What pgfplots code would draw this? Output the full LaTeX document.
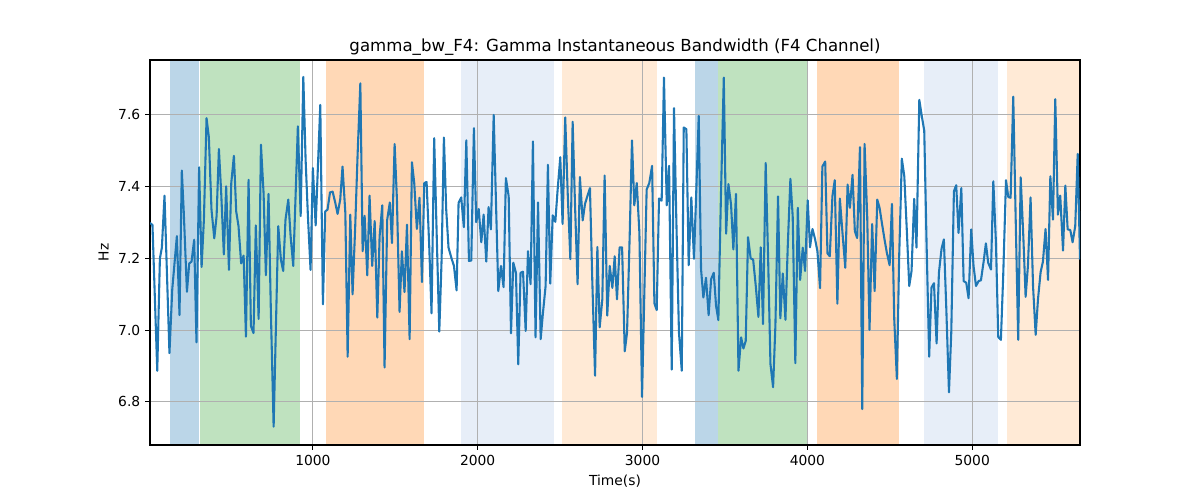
\documentclass[border=0pt]{standalone}
\usepackage{pgfplots}
\usepackage{pgfplotstable}
\pgfplotsset{compat=1.18}
\usepackage{fontspec}
\setmainfont{DejaVu Sans}
\definecolor{tabblue}{HTML}{1F77B4}
\definecolor{tabgreen}{HTML}{2CA02C}
\definecolor{taborange}{HTML}{FF7F0E}
\definecolor{tablblue}{HTML}{AEC7E8}
\definecolor{tablorange}{HTML}{FFBB78}
\definecolor{gridgray}{HTML}{B0B0B0}
\pgfplotstableread{
x y
12 7.299
27 7.293
56 6.887
72 7.200
84 7.230
100 7.375
130 6.936
147 7.114
175 7.262
191 7.042
205 7.445
217 7.327
236 7.107
250 7.186
264 7.191
280 7.252
294 6.966
310 7.454
325 7.176
339 7.308
355 7.591
369 7.538
385 7.336
402 7.256
416 7.318
430 7.505
444 7.382
460 7.211
474 7.401
491 7.168
505 7.410
521 7.486
535 7.331
549 7.290
565 7.186
580 7.208
594 6.982
610 7.419
624 7.012
640 6.992
654 7.292
671 7.031
685 7.517
701 7.382
715 7.153
731 7.380
745 7.058
762 6.731
776 7.012
790 7.290
806 7.197
820 7.165
834 7.308
851 7.364
865 7.262
881 7.179
895 7.372
909 7.568
926 7.318
942 7.706
956 7.475
970 7.318
986 7.168
1000 7.452
1017 7.292
1045 7.628
1061 7.072
1075 7.331
1089 7.336
1104 7.384
1120 7.386
1136 7.355
1150 7.324
1166 7.364
1180 7.456
1197 7.327
1211 6.926
1227 7.322
1241 7.100
1257 7.290
1271 7.484
1288 7.688
1302 7.220
1314 7.319
1330 7.153
1344 7.375
1360 7.179
1375 7.304
1391 7.035
1405 7.262
1421 7.348
1435 6.896
1451 7.308
1467 7.356
1480 7.243
1496 7.519
1510 7.364
1526 7.051
1540 7.220
1556 7.106
1571 7.294
1587 6.975
1601 7.468
1615 7.410
1631 7.282
1647 7.369
1662 7.134
1676 7.410
1690 7.413
1706 7.234
1720 7.047
1736 7.535
1751 7.271
1767 6.996
1781 7.197
1795 7.537
1809 7.336
1823 7.230
1842 7.199
1856 7.179
1872 7.111
1884 7.355
1900 7.370
1916 7.287
1931 7.529
1947 7.193
1961 7.194
1977 7.563
1991 7.301
2006 7.338
2022 7.245
2036 7.322
2052 7.191
2066 7.343
2080 7.281
2097 7.600
2111 7.355
2125 7.109
2141 7.179
2157 7.120
2171 7.424
2188 7.373
2202 6.991
2216 7.188
2232 7.160
2246 6.905
2260 7.160
2275 7.163
2291 6.998
2305 7.220
2321 7.128
2335 7.526
2351 6.980
2366 7.356
2382 6.975
2396 7.049
2412 7.123
2426 7.461
2440 7.130
2455 7.320
2471 7.302
2485 7.392
2501 7.482
2515 7.296
2531 7.593
2546 7.382
2562 7.198
2576 7.581
2590 7.355
2606 7.128
2620 7.427
2637 7.306
2651 7.352
2665 7.373
2681 7.396
2695 7.142
2712 6.873
2726 7.232
2740 7.008
2756 7.086
2770 7.431
2786 7.041
2801 7.179
2817 7.118
2831 7.206
2845 7.086
2861 7.231
2876 7.231
2892 6.941
2906 6.993
2922 7.262
2936 7.529
2950 7.348
2965 7.410
2981 7.271
2997 6.814
3011 7.105
3025 7.392
3041 7.410
3058 7.458
3072 7.075
3086 7.056
3100 7.367
3116 7.361
3130 7.704
3147 7.348
3161 7.458
3177 6.890
3191 7.619
3205 7.308
3221 6.993
3238 6.887
3250 7.565
3266 7.560
3280 7.181
3296 7.370
3312 7.199
3327 7.401
3341 7.597
3355 7.170
3369 7.091
3385 7.146
3401 7.042
3416 7.142
3432 7.160
3446 7.068
3460 7.028
3476 7.382
3493 7.704
3507 7.269
3521 7.407
3537 7.350
3551 7.225
3567 7.380
3582 6.887
3598 6.980
3612 6.949
3626 6.970
3640 7.259
3656 7.200
3671 7.197
3687 7.123
3703 7.037
3717 7.231
3731 7.017
3747 7.466
3762 7.197
3776 6.906
3792 6.841
3806 7.012
3822 7.373
3836 7.033
3851 7.158
3867 7.029
3881 7.234
3897 7.422
3911 7.317
3927 6.908
3942 7.341
3956 7.140
3972 7.230
3986 7.165
4002 7.362
4016 7.231
4031 7.282
4047 7.253
4061 7.220
4077 7.117
4091 7.456
4108 7.470
4122 7.214
4136 7.206
4152 7.373
4166 7.418
4182 7.074
4197 7.367
4213 7.271
4230 7.174
4244 7.406
4258 7.341
4274 7.433
4288 7.276
4302 7.257
4319 7.510
4333 6.780
4347 7.519
4363 7.317
4377 7.001
4393 7.296
4408 7.109
4424 7.364
4438 7.341
4452 7.299
4468 7.253
4482 7.216
4499 7.181
4513 7.352
4527 7.031
4543 6.864
4557 7.206
4573 7.478
4588 7.429
4604 7.271
4618 7.123
4632 7.165
4648 7.366
4662 7.230
4679 7.642
4693 7.600
4709 7.556
4723 7.244
4739 6.926
4753 7.119
4768 7.131
4784 6.963
4798 7.160
4814 7.227
4828 7.253
4843 7.058
4859 6.827
4873 6.994
4889 7.387
4903 7.404
4917 7.271
4934 7.396
4948 7.137
4964 7.132
4978 7.089
4994 7.281
5008 7.179
5023 7.123
5039 7.137
5053 7.139
5069 7.190
5083 7.242
5097 7.188
5114 7.169
5128 7.415
5144 7.244
5158 6.981
5174 6.973
5188 7.151
5205 7.418
5219 7.371
5233 7.369
5249 7.651
5263 7.327
5279 6.973
5294 7.426
5310 7.262
5324 7.093
5338 7.179
5354 7.370
5369 7.123
5385 6.987
5399 7.086
5415 7.162
5429 7.191
5445 7.282
5460 7.140
5474 7.429
5490 7.308
5504 7.644
5520 7.322
5534 7.375
5551 7.222
5565 7.403
5579 7.281
5595 7.279
5609 7.245
5625 7.290
5640 7.491
5654 7.197
}\datatable
\begin{document}
\begin{tikzpicture}
\begin{axis}[
  set layers=standard,
  at={(108bp,39.6bp)}, anchor=south west,
  scale only axis, width=669.6bp, height=277.2bp,
  xmin=12, xmax=5654, ymin=6.68, ymax=7.753,
  xtick={1000,2000,3000,4000,5000},
  ytick={6.8,7.0,7.2,7.4,7.6},
  scaled x ticks=false, scaled y ticks=false,
  xtick pos=left, ytick pos=left,
  grid=major, grid style={gridgray, line width=0.8bp},
  tick align=outside, major tick length=3.5bp,
  tick style={black, line width=0.8bp},
  axis line style={line width=0.8bp},
  ticklabel style={font=\fontsize{10}{12}\selectfont},
  /pgf/number format/assume math mode=true,
  /pgf/number format/1000 sep={},
  yticklabel style={/pgf/number format/fixed, /pgf/number format/fixed zerofill, /pgf/number format/precision=1},
  title={gamma\_bw\_F4: Gamma Instantaneous Bandwidth (F4 Channel)},
  title style={font=\fontsize{12}{14}\selectfont, yshift=-6.5bp},
  xlabel={Time(s)}, ylabel={Hz},
  label style={font=\fontsize{10}{12}\selectfont},
]
\addplot[fill=tabblue, fill opacity=0.3, draw=none, on layer=axis background] coordinates {(132,6.68) (308,6.68) (308,7.753) (132,7.753)};
\addplot[fill=tabgreen, fill opacity=0.3, draw=none, on layer=axis background] coordinates {(314,6.68) (920,6.68) (920,7.753) (314,7.753)};
\addplot[fill=taborange, fill opacity=0.3, draw=none, on layer=axis background] coordinates {(1079,6.68) (1672,6.68) (1672,7.753) (1079,7.753)};
\addplot[fill=tablblue, fill opacity=0.3, draw=none, on layer=axis background] coordinates {(1901,6.68) (2463,6.68) (2463,7.753) (1901,7.753)};
\addplot[fill=tablorange, fill opacity=0.3, draw=none, on layer=axis background] coordinates {(2512,6.68) (3086,6.68) (3086,7.753) (2512,7.753)};
\addplot[fill=tabblue, fill opacity=0.3, draw=none, on layer=axis background] coordinates {(3319,6.68) (3460,6.68) (3460,7.753) (3319,7.753)};
\addplot[fill=tabgreen, fill opacity=0.3, draw=none, on layer=axis background] coordinates {(3460,6.68) (4003,6.68) (4003,7.753) (3460,7.753)};
\addplot[fill=taborange, fill opacity=0.3, draw=none, on layer=axis background] coordinates {(4061,6.68) (4555,6.68) (4555,7.753) (4061,7.753)};
\addplot[fill=tablblue, fill opacity=0.3, draw=none, on layer=axis background] coordinates {(4709,6.68) (5156,6.68) (5156,7.753) (4709,7.753)};
\addplot[fill=tablorange, fill opacity=0.3, draw=none, on layer=axis background] coordinates {(5213,6.68) (5654,6.68) (5654,7.753) (5213,7.753)};
\addplot[tabblue, line width=1.5bp, line join=round, no markers] table[x=x, y=y] {\datatable};
\end{axis}
\path (0,0) (864bp,360bp);
\end{tikzpicture}
\end{document}
